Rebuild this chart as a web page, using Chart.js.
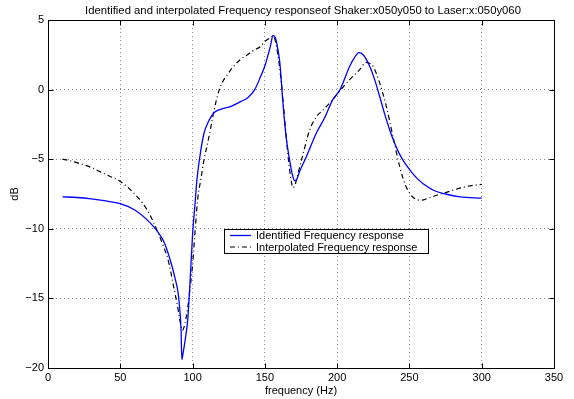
<!DOCTYPE html>
<html>
<head>
<meta charset="utf-8">
<title>Identified and interpolated Frequency response</title>
<script src="https://cdn.jsdelivr.net/npm/chart.js"></script>
<style>
  html, body { margin: 0; padding: 0; background: #fff; }
  #wrap { width: 574px; height: 399px; }
</style>
</head>
<body>
<div id="wrap"><canvas id="frf" width="574" height="399"></canvas></div>
<script>
// --- Data ---
const titleText = 'Identified and interpolated Frequency responseof Shaker:x050y050 to Laser:x:050y060';
const xTicks = [0, 50, 100, 150, 200, 250, 300, 350];
const yTicks = [-20, -15, -10, -5, 0, 5];

// Identified Frequency response (blue, solid)
const identFreq = [10, 20, 30, 40, 50, 60, 70, 75, 80, 85, 88, 90, 91, 92, 92.6, 93.5, 95, 96.6, 98, 100,
  101.7, 103, 105.8, 108, 110.5, 115, 120, 126.6, 133.5, 138, 143, 147.3, 150, 152, 154, 155.6, 157.2,
  159, 160.5, 162.3, 164.6, 167, 169, 170.6, 172, 174, 178.8, 185.7, 191, 197, 202, 208.7, 212, 215,
  218, 222.5, 226, 229.4, 233, 236.3, 240, 244, 248, 252, 256, 260, 267, 275, 285, 300];
const identDb = [-7.7, -7.75, -7.85, -8.0, -8.2, -8.65, -9.5, -10.1, -10.9, -12.4, -13.6, -14.6, -15.6, -17.2, -19.4, -18.9, -17.9, -16.6, -14.3, -10.4,
  -8.2, -6.5, -4.3, -3.1, -2.4, -1.65, -1.4, -1.2, -0.85, -0.6, 0.0, 1.0, 1.7, 2.4, 3.2, 3.9, 3.75,
  2.9, 1.8, -0.7, -3.3, -5.0, -6.1, -6.55, -6.45, -5.9, -4.8, -3.1, -2.1, -0.72, 0.0, 1.68, 2.3, 2.66,
  2.5, 1.68, 0.7, -0.48, -1.8, -2.88, -3.9, -4.8, -5.45, -6.0, -6.45, -6.8, -7.25, -7.5, -7.7, -7.8];

// Interpolated Frequency response (black, dash-dot)
const interpFreq = [10, 15, 20, 30, 40, 50, 55, 60, 65, 70, 75, 80, 83, 87, 90, 92, 93, 94, 96.6, 98, 100,
  102, 103.5, 105.8, 108, 110.5, 113, 115, 118.5, 121, 124.3, 127, 133.5, 138, 142, 147, 150, 154, 155.6,
  157, 159, 161, 163, 164.7, 166.5, 168, 169.5, 171, 173, 176, 181, 186, 190, 197, 201, 208.7, 215.6,
  220, 222, 224.8, 229.4, 234, 238.6, 243.2, 247, 250.6, 254, 258, 263, 269.5, 275, 281, 290, 300];
const interpDb = [-5.0, -5.1, -5.25, -5.6, -6.1, -6.6, -7.0, -7.5, -8.1, -8.9, -10.0, -11.3, -12.2, -14.2, -15.8, -17.0, -17.3, -17.1, -15.7, -14.5, -12.6,
  -9.8, -7.9, -6.4, -5.0, -3.8, -2.5, -1.4, 0.0, 0.6, 1.1, 1.5, 2.2, 2.5, 2.8, 3.1, 3.45, 3.75, 3.85,
  3.6, 2.5, 0.9, -1.3, -3.3, -5.2, -6.4, -7.05, -6.8, -6.0, -4.8, -2.9, -1.9, -1.5, -0.7, -0.2, 0.72, 1.44,
  1.95, 1.9, 1.68, 0.48, -1.2, -3.36, -5.5, -6.8, -7.5, -7.85, -7.95, -7.8, -7.57, -7.4, -7.2, -6.95, -6.8];

const toPoints = (xs, ys) => xs.map((x, i) => ({ x: x, y: ys[i] }));
const FONT = 'Helvetica, "Liberation Sans", Arial, sans-serif';
const minus = v => String(v).replace('-', '\u2212');

// title above the axes, centred on the plot area
const titlePlugin = {
  id: 'plotTitle',
  afterDraw(chart) {
    const { ctx, chartArea } = chart;
    ctx.save();
    ctx.font = '11.3px ' + FONT;
    ctx.fillStyle = '#000';
    ctx.textAlign = 'center';
    ctx.textBaseline = 'middle';
    ctx.fillText(titleText, (chartArea.left + chartArea.right) / 2 + 2, 11);
    ctx.restore();
  }
};

// MATLAB style box with inward tick marks
const framePlugin = {
  id: 'frame',
  afterDatasetsDraw(chart) {
    const { ctx, chartArea: a, scales } = chart;
    const L = Math.round(a.left) + 0.5, R = Math.round(a.right) + 0.5;
    const T = Math.round(a.top) + 0.5, B = Math.round(a.bottom) + 0.5;
    ctx.save();
    ctx.strokeStyle = '#000';
    ctx.lineWidth = 1;
    ctx.strokeRect(L, T, R - L, B - T);
    ctx.beginPath();
    xTicks.forEach(v => {
      const px = Math.round(scales.x.getPixelForValue(v)) + 0.5;
      ctx.moveTo(px, B); ctx.lineTo(px, B - 5);
      ctx.moveTo(px, T); ctx.lineTo(px, T + 5);
    });
    yTicks.forEach(v => {
      const py = Math.round(scales.y.getPixelForValue(v)) + 0.5;
      ctx.moveTo(L, py); ctx.lineTo(L + 5, py);
      ctx.moveTo(R, py); ctx.lineTo(R - 5, py);
    });
    ctx.stroke();
    ctx.restore();
  }
};

// boxed legend inside the axes
const legendPlugin = {
  id: 'boxLegend',
  afterDatasetsDraw(chart) {
    const { ctx } = chart;
    const bx = 224.5, by = 229.5, bw = 204, bh = 24;
    ctx.save();
    ctx.fillStyle = '#fff';
    ctx.fillRect(bx, by, bw, bh);
    ctx.strokeStyle = '#000';
    ctx.lineWidth = 1;
    ctx.strokeRect(bx, by, bw, bh);
    ctx.font = '11px ' + FONT;
    ctx.textBaseline = 'middle';
    ctx.textAlign = 'left';
    chart.data.datasets.forEach((ds, i) => {
      const y = 235.5 + i * 11.5;
      ctx.beginPath();
      ctx.strokeStyle = ds.borderColor;
      ctx.lineWidth = ds.borderWidth;
      ctx.setLineDash(ds.borderDash || []);
      ctx.moveTo(230, y);
      ctx.lineTo(251, y);
      ctx.stroke();
      ctx.setLineDash([]);
      ctx.fillStyle = '#000';
      ctx.fillText(ds.label, 256, y + 0.5);
    });
    ctx.restore();
  }
};

new Chart(document.getElementById('frf'), {
  type: 'line',
  data: {
    datasets: [{
      label: 'Identified Frequency response',
      data: toPoints(identFreq, identDb),
      borderColor: '#0000ff',
      borderWidth: 1.3,
      pointRadius: 0,
      fill: false,
      cubicInterpolationMode: 'monotone'
    }, {
      label: 'Interpolated Frequency response',
      data: toPoints(interpFreq, interpDb),
      borderColor: '#000000',
      borderWidth: 1.2,
      borderDash: [5, 3, 1, 3],
      pointRadius: 0,
      fill: false,
      cubicInterpolationMode: 'monotone'
    }]
  },
  options: {
    responsive: false,
    animation: false,
    devicePixelRatio: 1,
    layout: { padding: { left: 0, right: 20, top: 20, bottom: 0 } },
    plugins: { legend: { display: false }, tooltip: { enabled: false }, title: { display: false } },
    scales: {
      x: {
        type: 'linear', min: 0, max: 350,
        afterBuildTicks: s => { s.ticks = xTicks.map(v => ({ value: v })); },
        afterFit: s => { s.height = 31; },
        grid: { color: 'rgba(0,0,0,0.45)', drawTicks: false },
        border: { display: false, dash: [1, 3] },
        ticks: { color: '#000', padding: 3, maxRotation: 0, font: { family: FONT, size: 11 }, callback: v => minus(v) },
        title: { display: true, text: 'frequency (Hz)', color: '#000', font: { family: FONT, size: 11 }, padding: { top: 0, bottom: 1 } }
      },
      y: {
        type: 'linear', min: -20, max: 5,
        afterBuildTicks: s => { s.ticks = yTicks.map(v => ({ value: v })); },
        afterFit: s => { s.width = 48; },
        grid: { color: 'rgba(0,0,0,0.45)', drawTicks: false },
        border: { display: false, dash: [1, 3] },
        ticks: { color: '#000', padding: 4, font: { family: FONT, size: 11 }, callback: v => minus(v) },
        title: { display: true, text: 'dB', color: '#000', font: { family: FONT, size: 11 }, padding: { top: 8, bottom: 0 } }
      }
    }
  },
  plugins: [titlePlugin, framePlugin, legendPlugin]
});
</script>
</body>
</html>
